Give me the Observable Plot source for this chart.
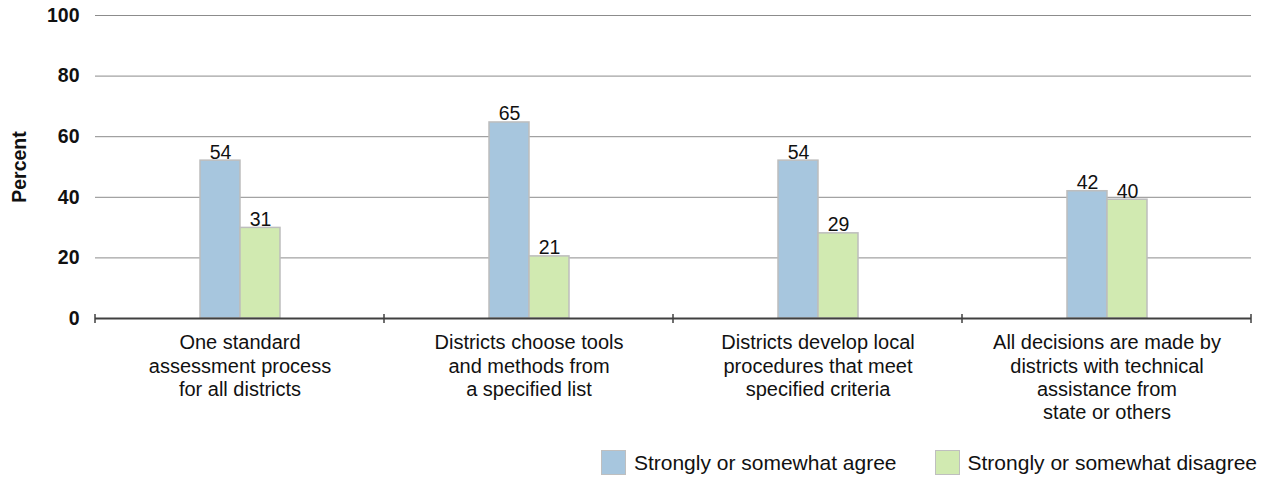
<!DOCTYPE html>
<html>
<head>
<meta charset="utf-8">
<script src="https://cdn.jsdelivr.net/npm/d3@7"></script>
<script src="https://cdn.jsdelivr.net/npm/@observablehq/plot@0.6"></script>
<style>
  html, body { margin: 0; padding: 0; background: #fff; }
  body { width: 1265px; font-family: "Liberation Sans", Arial, sans-serif; color: #111; }
  #legend { display: flex; justify-content: flex-end; align-items: center; gap: 38px; padding: 8px 8px 0 0; font-size: 21px; }
  #legend .item { display: flex; align-items: center; gap: 8px; }
  #legend .sw { width: 23px; height: 23px; border: 1px solid #bfbfbf; }
</style>
</head>
<body>
<div id="chart"></div>
<div id="legend"></div>
<script>
const categories = [
  "One standard assessment process for all districts",
  "Districts choose tools and methods from a specified list",
  "Districts develop local procedures that meet specified criteria",
  "All decisions are made by districts with technical assistance from state or others"
];
const categoryLabels = [
  "One standard\nassessment process\nfor all districts",
  "Districts choose tools\nand methods from\na specified list",
  "Districts develop local\nprocedures that meet\nspecified criteria",
  "All decisions are made by\ndistricts with technical\nassistance from\nstate or others"
];
const seriesNames = ["Strongly or somewhat agree", "Strongly or somewhat disagree"];
const seriesColors = ["#a7c6de", "#d1eab1"];
// bar lengths as drawn, and the value labels as printed
const agreeValues = [52.1, 64.7, 52.1, 42.0];
const disagreeValues = [29.9, 20.5, 28.1, 39.2];
const agreeLabels = ["54", "65", "54", "42"];
const disagreeLabels = ["31", "21", "29", "40"];
const yTicks = [0, 20, 40, 60, 80, 100];
const yTitle = "Percent";

const data = [];
categories.forEach((c, i) => {
  data.push({category: c, series: seriesNames[0], value: agreeValues[i], label: agreeLabels[i]});
  data.push({category: c, series: seriesNames[1], value: disagreeValues[i], label: disagreeLabels[i]});
});
const labelOf = new Map(categories.map((c, i) => [c, categoryLabels[i]]));

const FONT = "'Liberation Sans', Arial, sans-serif";

const plot = Plot.plot({
  width: 1265,
  height: 442,
  marginLeft: 94,
  marginRight: 14,
  marginTop: 15,
  marginBottom: 124,
  style: {fontFamily: FONT, fontSize: "20px", color: "#111", background: "#fff"},
  fx: {domain: categories, padding: 0, label: null},
  x: {domain: seriesNames, paddingInner: 0, paddingOuter: 2.53, axis: null},
  y: {domain: [0, 100], ticks: yTicks, label: null},
  color: {domain: seriesNames, range: seriesColors},
  marks: [
    Plot.gridY(yTicks.filter(d => d > 0), {stroke: "#8c8c8c", strokeOpacity: 1, strokeWidth: 1}),
    Plot.axisY(yTicks, {tickSize: 0, tickPadding: 16, fontWeight: 700, label: null, fontSize: 19.5}),
    Plot.text([categories[0]], {fx: d => d, text: () => yTitle, frameAnchor: "left", textAnchor: "middle", rotate: -90, dx: -76, fontWeight: 700, fontSize: 19.5}),
    Plot.barY(data, {fx: "category", x: "series", y: "value", fill: "series", stroke: "#bdbdbd", strokeWidth: 1.5}),
    Plot.text(data, {fx: "category", x: "series", y: "value", text: "label", lineAnchor: "bottom", dy: -2, fill: "#111", fontSize: 19.5}),
    Plot.ruleY([0], {stroke: "#404040", strokeWidth: 2}),
    Plot.axisFx({anchor: "bottom", tickSize: 0, tickPadding: 14, label: null, tickFormat: d => labelOf.get(d), lineHeight: 1.17, fontSize: 20, lineAnchor: "top"})
  ]
});
document.getElementById("chart").appendChild(plot);

// tick marks at the category boundaries, from the fx scale
const fx = plot.scale("fx");
const svg = d3.select(plot);
const y0 = plot.scale("y").apply(0);
const bounds = categories.map(c => fx.apply(c));
bounds.push(fx.apply(categories[categories.length - 1]) + fx.bandwidth);
svg.append("g").attr("stroke", "#404040").attr("stroke-width", 1.5)
  .selectAll("line").data(bounds).join("line")
  .attr("x1", d => d).attr("x2", d => d)
  .attr("y1", y0 - 4).attr("y2", y0 + 5);

const legend = d3.select("#legend");
seriesNames.forEach((s, i) => {
  const item = legend.append("div").attr("class", "item");
  item.append("div").attr("class", "sw").style("background", seriesColors[i]);
  item.append("span").text(s);
});
</script>
</body>
</html>
